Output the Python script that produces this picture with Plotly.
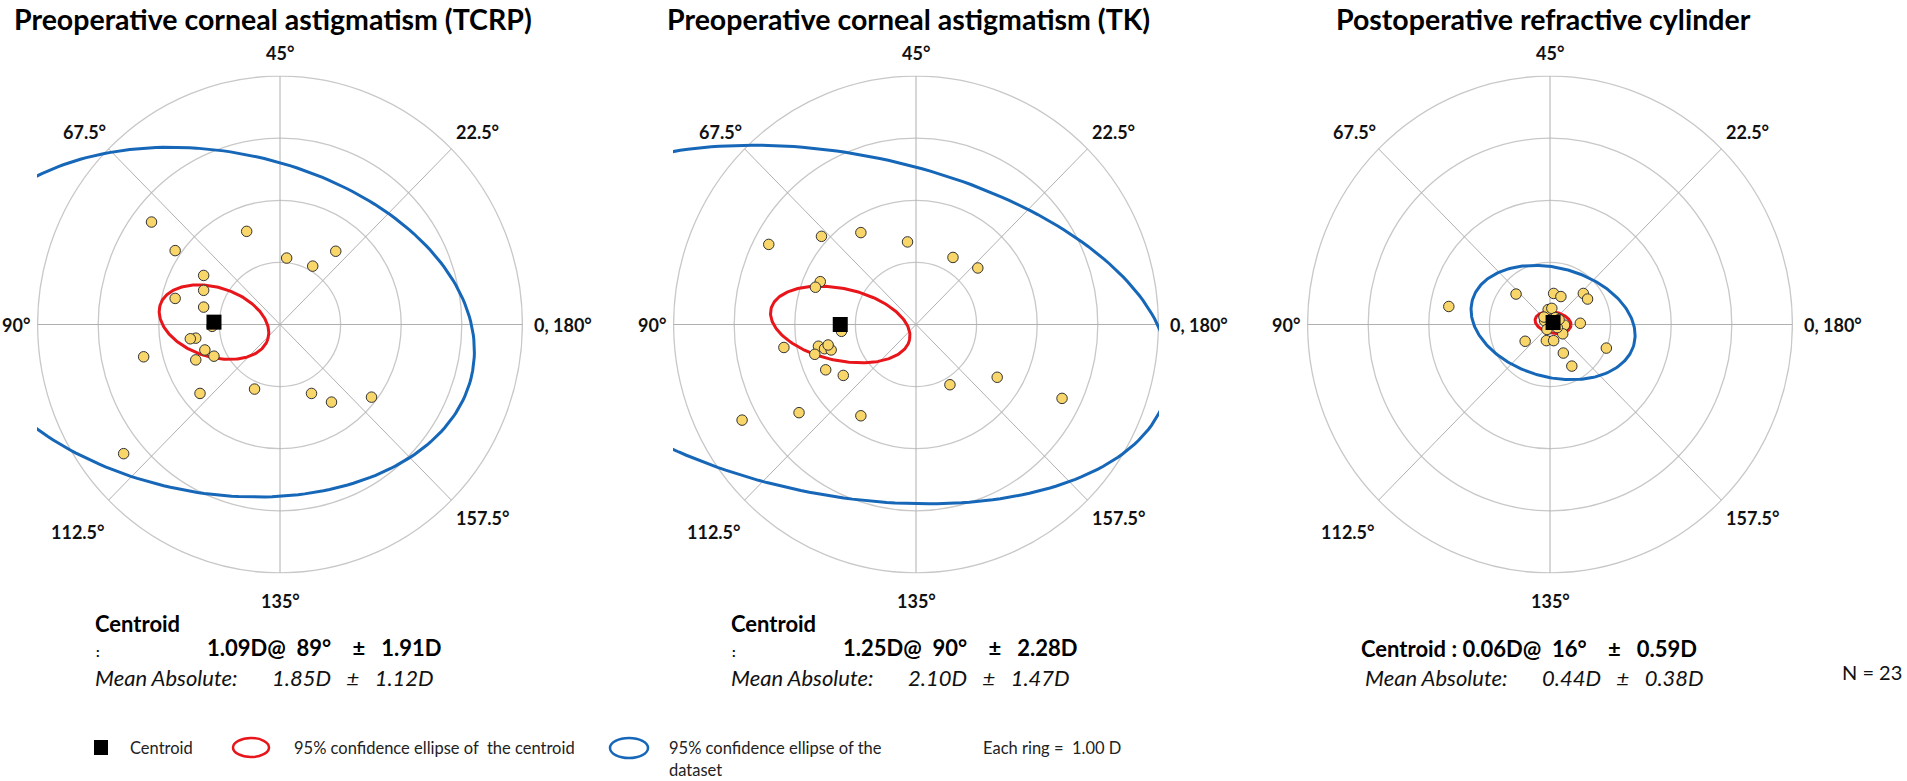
import numpy as np
import plotly.graph_objects as go

W, H = 1907, 781
FONT = "Lato"
NB = "\u00a0"

titles = ["Preoperative corneal astigmatism (TCRP)",
          "Preoperative corneal astigmatism (TK)",
          "Postoperative refractive cylinder"]

# double-angle plot: x = cyl*cos(2*axis), y = cyl*sin(2*axis), in dioptres
tcrp_x = [-2.12, -0.55, -1.73, 0.11, 0.92, 0.54, -1.26, -1.26, -1.73, -1.26, -1.39, -1.48,
          -1.24, -1.09, -1.39, -2.25, -1.32, -0.42, 0.52, 0.85, 1.51, -2.58, -1.12]
tcrp_y = [1.65, 1.50, 1.19, 1.07, 1.18, 0.94, 0.79, 0.55, 0.42, 0.28, -0.22, -0.23,
          -0.41, -0.51, -0.57, -0.52, -1.11, -1.04, -1.11, -1.25, -1.17, -2.08, -0.03]

tk_x = [-2.43, -1.56, -0.91, -0.14, 0.61, 1.02, -1.58, -1.66, -1.23, -2.18, -1.61, -1.51,
        -1.40, -1.67, -1.49, -1.20, 0.56, 1.34, 2.41, -2.87, -1.93, -0.91, -1.45]
tk_y = [1.29, 1.42, 1.48, 1.33, 1.08, 0.91, 0.69, 0.60, -0.11, -0.37, -0.35, -0.39,
        -0.41, -0.48, -0.73, -0.82, -0.97, -0.85, -1.19, -1.54, -1.42, -1.47, -0.33]

post_x = [-1.67, -0.56, 0.06, 0.18, 0.55, 0.62, -0.03, 0.03, 0.50, 0.24, 0.21, -0.41,
          -0.06, 0.06, 0.93, 0.22, 0.36, -0.09, 0.09, 0.12, -0.05, 0.15, -0.10]
post_y = [0.29, 0.49, 0.50, 0.45, 0.50, 0.41, 0.24, 0.26, 0.02, -0.01, -0.15, -0.27,
          -0.26, -0.26, -0.38, -0.46, -0.67, 0.06, 0.11, -0.05, -0.08, 0.08, 0.12]

points_x = [tcrp_x, tk_x, post_x]
points_y = [tcrp_y, tk_y, post_y]

centroid_mag = [1.09, 1.25, 0.06]
centroid_axis = [89, 90, 16]
centroid_sd = [1.91, 2.28, 0.59]
mean_abs = [1.85, 2.10, 0.44]
mean_abs_sd = [1.12, 1.47, 0.38]
n_eyes = 23

# 95% confidence ellipses: semi-axes (D) and tilt of major axis (deg, plot plane)
cent_ell_a = [0.93, 1.17, 0.30]
cent_ell_b = [0.56, 0.58, 0.17]
cent_ell_tilt = [-17, -12, -10]
data_ell_a = [4.34, 5.50, 1.38]
data_ell_b = [2.75, 2.75, 0.88]
data_ell_tilt = [-10.4, -10.7, -14.7]

ring_values = [1, 2, 3, 4]
ring_step = 1.00
spoke_axes = [0, 22.5, 45, 67.5]
angle_labels = ["0, 180°", "22.5°", "45°", "67.5°", "90°", "112.5°", "135°", "157.5°"]

# layout in pixels
centers_px = [280, 916, 1550]
CY = 324.5
HW, HH = 243, 249
RMAX = 4.01


def px(x, y):
    return x / W, 1 - y / H


def add_text(txt, x, y, font, anchor="left"):
    ax_, ay_ = px(x, y)
    annotations.append(dict(x=ax_, y=ay_, xref="paper", yref="paper", text=txt,
                            showarrow=False, xanchor=anchor, yanchor="middle", font=font))


def ellipse(cx, cy, a, b, tilt):
    t = np.linspace(0, 2 * np.pi, 241)
    th = np.radians(tilt)
    ex = a * np.cos(t)
    ey = b * np.sin(t)
    return cx + ex * np.cos(th) - ey * np.sin(th), cy + ex * np.sin(th) + ey * np.cos(th)


fig = go.Figure()
shapes = []
annotations = []

label_font = dict(family=FONT, size=18, color="#111", weight="bold")
title_font = dict(family=FONT, size=28.5, color="black", weight="bold")
bold = dict(family=FONT, size=22, color="black", weight="bold")
colon = dict(family=FONT, size=14, color="black", weight="bold")
ital = dict(family=FONT, size=22, color="#111", style="italic")

label_pos = {
    "0, 180°": (252, 0, "left"),
    "22.5°": (197, -192, "center"),
    "45°": (0, -272, "center"),
    "67.5°": (-196, -192, "center"),
    "90°": (-248, 0, "right"),
    "112.5°": (-202, 207, "center"),
    "135°": (0, 276, "center"),
    "157.5°": (203, 193, "center"),
}

for i in range(3):
    s = "" if i == 0 else str(i + 1)
    xa, ya = "x" + s, "y" + s

    for r in ring_values:
        shapes.append(dict(type="circle", xref=xa, yref=ya, x0=-r, y0=-r, x1=r, y1=r,
                           line=dict(color="#c8c8c8", width=1.3), layer="below"))

    sx, sy = [], []
    for ax in spoke_axes:
        d = np.radians(2 * ax)
        sx += [-4 * np.cos(d), 4 * np.cos(d), None]
        sy += [-4 * np.sin(d), 4 * np.sin(d), None]
    fig.add_trace(go.Scatter(x=sx, y=sy, mode="lines", xaxis=xa, yaxis=ya,
                             line=dict(color="#b0b0b0", width=1), hoverinfo="skip",
                             showlegend=False))

    d = np.radians(2 * centroid_axis[i])
    cx = centroid_mag[i] * np.cos(d)
    cy = centroid_mag[i] * np.sin(d)

    bx, by = ellipse(cx, cy, data_ell_a[i], data_ell_b[i], data_ell_tilt[i])
    fig.add_trace(go.Scatter(x=bx, y=by, mode="lines", xaxis=xa, yaxis=ya,
                             line=dict(color="#1767b8", width=3), hoverinfo="skip",
                             showlegend=False))
    rx, ry = ellipse(cx, cy, cent_ell_a[i], cent_ell_b[i], cent_ell_tilt[i])
    fig.add_trace(go.Scatter(x=rx, y=ry, mode="lines", xaxis=xa, yaxis=ya,
                             line=dict(color="#e8161b", width=3), hoverinfo="skip",
                             showlegend=False))

    fig.add_trace(go.Scatter(x=points_x[i], y=points_y[i], mode="markers", xaxis=xa, yaxis=ya,
                             marker=dict(size=10.5, color="#f8d66a",
                                         line=dict(color="#333333", width=1)),
                             showlegend=False))
    fig.add_trace(go.Scatter(x=[cx], y=[cy], mode="markers", xaxis=xa, yaxis=ya,
                             marker=dict(size=15, symbol="square", color="black"),
                             showlegend=False))

    c = centers_px[i]
    x0, x1 = (c - HW) / W, (c + HW) / W
    y0, y1 = 1 - (CY + HH) / H, 1 - (CY - HH) / H
    axis_style = dict(range=[-RMAX, RMAX], visible=False, fixedrange=True)
    fig.update_layout(**{
        "xaxis" + s: dict(domain=[x0, x1], anchor=ya, **axis_style),
        "yaxis" + s: dict(domain=[y0, y1], anchor=xa, **axis_style),
    })

    # angle labels around the rings
    for lab in angle_labels:
        dx, dy, anc = label_pos[lab]
        add_text(lab, c + dx, CY + dy, label_font, anc)

    add_text(titles[i], [12, 665, 1334][i], 19, title_font)

    cen_txt = (f"{centroid_mag[i]:.2f}D@{NB*2}{centroid_axis[i]}°{NB*4}±"
               f"{NB*3}{centroid_sd[i]:.2f}D")
    if i < 2:
        add_text("Centroid", c - 187, 623, bold)
        add_text(":", c - 186, 651, colon)
        add_text(cen_txt, c - 75, 647, bold)
    else:
        add_text(f"Centroid{NB}:{NB}" + cen_txt, c - 191, 648, bold)
    add_text("Mean Absolute:", c - 187, 677, ital)
    add_text(f"{mean_abs[i]:.2f}D{NB*3}±{NB*3}{mean_abs_sd[i]:.2f}D", c - 10, 677, ital)

add_text(f"N = {n_eyes}", 1904, 672, dict(family=FONT, size=20, color="#111"), "right")

# legend row
leg_font = dict(family=FONT, size=16.5, color="#222")
x0, y0 = px(94, 740)
x1, y1 = px(108, 755)
shapes.append(dict(type="rect", xref="paper", yref="paper", x0=x0, y0=y0, x1=x1, y1=y1,
                   fillcolor="black", line=dict(width=0)))
x0, y0 = px(233, 738)
x1, y1 = px(269, 757)
shapes.append(dict(type="circle", xref="paper", yref="paper", x0=x0, y0=y0, x1=x1, y1=y1,
                   line=dict(color="#e8161b", width=2.5)))
x0, y0 = px(610, 738)
x1, y1 = px(648, 758)
shapes.append(dict(type="circle", xref="paper", yref="paper", x0=x0, y0=y0, x1=x1, y1=y1,
                   line=dict(color="#1767b8", width=2.5)))
add_text("Centroid", 128, 748, leg_font)
add_text(f"95% confidence ellipse of{NB*2}the centroid", 292, 748, leg_font)
add_text("95% confidence ellipse of the", 667, 748, leg_font)
add_text("dataset", 667, 770, leg_font)
add_text(f"Each ring ={NB*2}{ring_step:.2f} D", 981, 748, leg_font)

fig.update_layout(
    width=W, height=H,
    margin=dict(l=0, r=0, t=0, b=0),
    paper_bgcolor="white", plot_bgcolor="white",
    shapes=shapes, annotations=annotations,
    showlegend=False,
)

fig.write_html("out.html", config={"displayModeBar": False},
               post_script="document.body.style.margin='0px';")
